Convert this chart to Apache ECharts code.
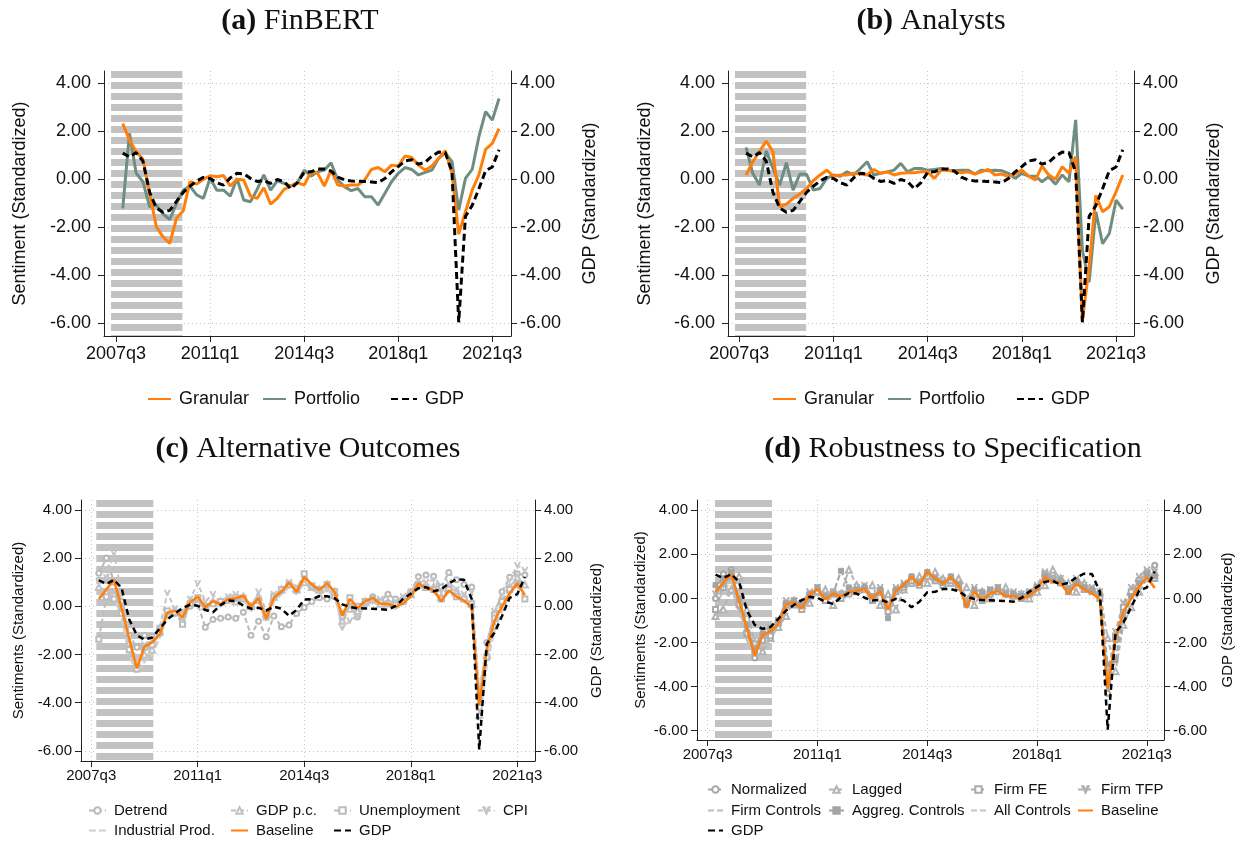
<!DOCTYPE html>
<html><head><meta charset="utf-8">
<script src="https://cdn.jsdelivr.net/npm/echarts@6/dist/echarts.min.js"></script>
<style>html,body{margin:0;padding:0;background:#fff}#c{width:1242px;height:844px}</style>
</head><body><div id="c"></div><script>
const quarters = ['2007q4',
 '2008q1','2008q2','2008q3','2008q4','2009q1','2009q2','2009q3','2009q4',
 '2010q1','2010q2','2010q3','2010q4','2011q1','2011q2','2011q3','2011q4',
 '2012q1','2012q2','2012q3','2012q4','2013q1','2013q2','2013q3','2013q4',
 '2014q1','2014q2','2014q3','2014q4','2015q1','2015q2','2015q3','2015q4',
 '2016q1','2016q2','2016q3','2016q4','2017q1','2017q2','2017q3','2017q4',
 '2018q1','2018q2','2018q3','2018q4','2019q1','2019q2','2019q3','2019q4',
 '2020q1','2020q2','2020q3','2020q4','2021q1','2021q2','2021q3','2021q4'];
const xTickLabels = ['2007q3','2011q1','2014q3','2018q1','2021q3'];
const yTicks = [-6,-4,-2,0,2,4];

const gdp = [1.08,0.92,1.10,0.75,-0.55,-1.20,-1.38,-1.30,-0.93,-0.55,
 -0.30,-0.08,0.07,0.02,-0.15,-0.25,0.05,0.24,0.22,0.03,
 -0.10,-0.06,-0.18,-0.02,-0.10,-0.40,-0.15,0.28,0.30,0.42,
 0.42,0.33,0.08,-0.03,-0.08,-0.09,-0.10,-0.12,-0.15,0.02,
 0.30,0.52,0.75,0.80,0.62,0.70,0.95,1.12,1.10,0.30,
 -5.95,-1.55,-1.10,-0.40,0.35,0.50,1.22];
const granularA = [2.31,1.62,1.14,0.82,-0.60,-1.98,-2.40,-2.67,-1.63,-1.32,
 -0.11,-0.21,-0.01,0.14,0.10,0.15,-0.29,-0.01,-0.04,-0.71,
 -0.80,-0.36,-1.04,-0.80,-0.43,-0.29,-0.15,-0.25,0.30,0.24,
 -0.29,0.37,-0.25,-0.29,-0.25,-0.25,-0.04,0.40,0.48,0.30,
 0.58,0.54,0.96,0.90,0.58,0.37,0.54,0.86,1.18,0.24,
 -2.29,-1.36,-0.46,0.17,1.23,1.48,2.10];
const portfolioA = [-1.22,1.90,0.24,-0.11,-1.15,-1.08,-1.45,-1.68,-1.01,-0.46,
 -0.29,-0.66,-0.80,0.03,-0.46,-0.46,-0.71,0.03,-0.87,-0.94,
 -0.43,0.17,-0.46,-0.07,-0.18,-0.29,-0.15,0.37,0.12,0.30,
 0.37,0.68,-0.04,-0.32,-0.48,-0.39,-0.73,-0.73,-1.08,-0.60,
 -0.11,0.24,0.48,0.40,0.17,0.28,0.37,0.86,1.09,0.72,
 -1.29,0.03,0.40,1.76,2.80,2.45,3.35];
const granularB = [0.17,0.72,1.14,1.58,1.14,-1.15,-1.04,-0.80,-0.62,-0.39,
 -0.07,0.17,0.37,0.12,0.17,0.17,0.24,0.21,0.17,0.40,
 0.24,0.30,0.17,0.24,0.26,0.26,0.30,0.30,0.03,0.37,
 0.37,0.30,0.26,0.30,0.21,0.30,0.40,0.17,0.21,0.10,
 0.21,0.37,0.12,-0.04,0.54,0.17,-0.01,0.51,0.24,0.93,
 -5.88,-3.65,-0.67,-1.36,-1.15,-0.53,0.17];
const portfolioB = [1.32,0.24,-0.25,1.18,0.45,-0.25,0.68,-0.46,0.21,0.20,
 -0.46,-0.39,0.03,0.17,0.12,0.30,0.17,0.44,0.72,0.17,
 0.24,0.30,0.37,0.65,0.30,0.44,0.44,0.37,0.40,0.44,
 0.37,0.35,0.37,0.37,0.21,0.37,0.35,0.37,0.35,0.24,
 0.03,0.24,0.12,0.12,-0.11,0.10,-0.21,0.17,-0.11,2.46,
 -2.96,-4.28,-1.36,-2.68,-2.26,-0.88,-1.25];
const baseline = [0.30,0.70,1.10,-0.10,-1.35,-2.58,-1.67,-1.50,-1.17,-0.26,
 -0.19,-0.46,0.17,0.40,-0.04,0.21,0.09,0.29,0.33,0.44,
 -0.01,0.33,-0.52,0.35,0.60,0.98,0.60,1.22,0.90,0.68,
 0.95,0.60,-0.40,0.30,-0.07,0.21,0.34,0.10,0.10,-0.03,
 0.13,0.40,0.95,0.75,0.69,0.21,0.66,0.40,0.24,-0.04,
 -4.10,-1.80,-0.60,0.00,0.53,0.95,0.47];
const detrend = [1.37,2.00,1.00,0.20,-1.20,-1.70,-1.20,-1.25,-0.90,-0.35,
 -0.30,-0.45,0.00,0.10,-0.87,-0.55,-0.50,-0.45,-0.50,-0.25,
 -1.20,-0.62,-1.26,-0.40,-0.85,-0.78,-0.30,-0.05,0.20,0.35,
 0.30,0.40,-0.30,0.00,-0.45,0.10,0.40,0.20,0.50,0.30,
 0.30,0.60,1.23,1.30,1.25,0.80,1.40,1.10,0.90,0.80,
 -3.80,-1.50,-0.30,0.60,1.20,1.35,1.30];
const gdpPc = [0.80,0.60,0.50,0.00,-1.50,-2.30,-2.00,-1.80,-1.00,-0.30,
 -0.20,-0.30,0.20,0.30,0.00,0.20,0.20,0.30,0.20,0.40,
 0.00,0.40,-0.30,0.40,0.70,0.90,0.70,1.00,0.80,0.70,
 0.90,0.60,-0.60,-0.10,-0.20,0.20,0.30,0.10,0.20,0.10,
 0.30,0.50,0.90,0.80,0.80,0.40,0.80,0.60,0.40,0.10,
 -4.50,-2.00,-0.80,0.20,0.80,1.20,0.90];
const unemployment = [-1.37,0.40,0.30,-0.30,-1.80,-2.60,-1.70,-1.60,-1.10,-0.20,
 -0.25,-0.75,0.10,0.35,0.00,0.10,0.20,0.25,0.35,0.30,
 0.00,0.25,-0.45,0.40,0.70,0.90,0.70,1.35,0.85,0.70,
 0.90,0.60,-0.40,0.35,0.00,0.20,0.30,0.20,0.10,0.10,
 0.20,0.50,0.90,0.80,0.70,0.30,0.70,0.40,0.30,0.10,
 -4.20,-2.10,-0.50,0.20,0.70,0.90,0.30];
const cpi = [1.00,1.20,2.20,0.50,-1.40,-2.20,-1.60,-1.40,-0.90,0.55,
 -0.10,-0.20,0.30,0.95,0.20,0.50,0.10,0.40,0.50,0.35,
 0.00,0.60,-0.20,0.50,0.65,1.00,0.80,1.10,0.80,0.60,
 0.70,0.50,-0.90,-0.60,-0.40,0.00,0.20,0.30,0.10,0.20,
 0.40,0.60,1.10,1.00,1.10,0.60,1.00,0.70,0.50,0.60,
 -3.50,-1.60,-0.20,0.50,1.10,1.70,1.50];
const industrialProd = [0.50,0.30,0.40,-0.50,-2.00,-2.80,-2.30,-2.00,-1.30,-0.40,
 -0.30,-0.40,0.00,0.20,-0.20,0.10,0.00,0.20,0.20,0.30,
 -0.20,0.20,-0.60,0.20,0.50,0.80,0.50,1.00,0.70,0.50,
 0.70,0.40,-0.70,0.10,-0.30,0.00,0.20,0.00,0.00,-0.10,
 0.10,0.40,0.80,0.70,0.60,0.20,0.60,0.30,0.20,-0.10,
 -4.80,-2.40,-1.00,-0.20,0.50,1.00,0.80];
const normalized = [0.00,1.10,1.30,-0.20,-1.50,-2.70,-1.80,-1.60,-1.20,-0.30,
 -0.20,-0.40,0.20,0.40,0.00,0.30,0.10,0.30,0.40,0.50,
 0.00,0.40,-0.50,0.40,0.60,0.90,0.70,1.10,0.90,0.70,
 0.90,0.60,-0.30,0.30,0.00,0.30,0.40,0.20,0.20,0.10,
 0.20,0.50,1.00,0.90,0.80,0.40,0.80,0.50,0.40,0.10,
 -4.30,-1.90,-0.60,0.20,0.80,1.20,1.50];
const lagged = [-0.80,-0.50,0.40,1.00,-0.50,-2.00,-2.40,-1.80,-1.30,-0.80,
 -0.10,-0.30,-0.20,0.30,0.40,-0.30,0.20,1.30,0.60,0.50,
 0.60,-0.30,0.20,-0.50,0.40,0.70,1.00,0.70,1.20,0.90,
 0.70,0.90,0.50,-0.30,0.30,0.00,0.40,0.50,0.20,0.20,
 0.00,0.30,0.60,1.30,0.90,0.70,0.30,0.70,0.40,0.30,
 -1.80,-3.30,-1.20,-0.40,0.30,0.90,1.20];
const firmFE = [-0.50,0.50,1.00,-0.30,-1.60,-2.40,-1.90,-1.70,-1.10,-0.30,
 -0.30,-0.50,0.10,0.30,-0.10,0.20,0.00,0.20,0.30,0.40,
 -0.10,0.30,-0.60,0.30,0.50,0.80,0.60,1.00,0.80,0.60,
 0.80,0.50,-0.20,0.20,-0.10,0.20,0.30,0.20,0.10,0.00,
 0.20,0.50,1.10,0.90,0.70,0.30,0.70,0.40,0.30,0.00,
 -3.80,-1.70,-0.40,0.30,0.80,1.10,0.90];
const firmTFP = [0.20,0.60,1.00,-0.40,-1.70,-2.20,-1.50,-1.30,-1.00,-0.10,
 -0.10,-0.20,0.30,0.50,0.10,0.30,0.20,0.40,0.50,0.60,
 0.10,0.50,-0.30,0.50,0.70,0.90,0.80,1.10,1.00,0.80,
 0.90,0.70,0.00,0.50,0.20,0.40,0.50,0.30,0.30,0.20,
 0.30,0.60,1.20,1.00,0.90,0.50,0.90,0.60,0.50,0.30,
 -3.50,-1.50,-0.20,0.50,1.00,1.30,1.20];
const firmControls = [-1.00,-0.30,0.50,-0.60,-1.90,-2.50,-2.00,-1.80,-1.30,-0.40,
 -0.30,-0.60,0.10,0.30,-0.20,0.10,0.00,0.20,0.20,0.30,
 -0.20,0.20,-0.80,0.20,0.50,0.80,0.50,1.00,0.70,0.60,
 0.80,0.50,-0.30,0.20,-0.20,0.10,0.30,0.10,0.10,-0.10,
 0.10,0.40,0.90,0.80,0.70,0.30,0.60,0.40,0.30,0.00,
 -4.50,-2.20,-0.80,0.00,0.60,1.00,0.80];
const aggregControls = [0.60,0.90,1.20,0.00,-1.20,-2.30,-1.60,-1.40,-1.00,-0.20,
 -0.10,-0.30,0.20,0.50,0.10,0.20,1.25,0.50,0.40,0.50,
 0.10,0.40,-0.90,0.40,0.60,1.00,0.70,1.20,0.90,0.70,
 1.00,0.60,-0.20,0.40,0.30,0.40,0.50,0.20,0.20,0.10,
 0.30,0.50,1.00,0.80,0.80,0.40,0.80,0.50,0.40,0.20,
 -3.00,-2.80,-0.90,0.10,0.70,1.10,1.00];
const allControls = [-0.30,0.30,0.80,-0.30,-1.60,-2.40,-1.80,-1.60,-1.20,-0.30,
 -0.20,-0.50,0.10,0.40,0.00,0.20,0.10,0.30,0.30,0.40,
 0.00,0.30,-0.60,0.30,0.60,0.90,0.60,1.10,0.80,0.60,
 0.90,0.50,-0.30,0.30,0.00,0.20,0.30,0.10,0.10,0.00,
 0.20,0.50,1.00,0.80,0.70,0.30,0.70,0.40,0.30,0.00,
 -4.00,-1.80,-0.50,0.20,0.70,1.10,1.00];
// recession shading, in quarters after 2007q3
const recessionA = [-0.74, 9.87];
const recessionB = [-0.64, 9.93];
const recessionC = [0.67, 8.16];
const recessionD = [0.93, 8.20];

const SANS = 'Liberation Sans, Arial, Helvetica, sans-serif';
const SERIF = 'Liberation Serif, Times New Roman, serif';
function qIndex(s){ const y=+s.slice(0,4), q=+s.slice(5); return (y-2007)*4 + (q-3); }
const xTicks = xTickLabels.map(qIndex);
function pts(arr){ return arr.map((v,i)=>[qIndex(quarters[i]), v]); }

// striped pattern for shading
const pc = document.createElement('canvas'); pc.width = 4; pc.height = 11;
const pg = pc.getContext('2d');
pg.fillStyle = '#ffffff'; pg.fillRect(0,0,4,11);
pg.fillStyle = '#c2c2c2'; pg.fillRect(0,5,4,6); pg.fillRect(0,0,4,1);
const stripe = { image: pc, repeat: 'repeat' };

const P = [
 {l:104,t:71,r:511,b:336,xmin:-1.79,xmax:58.78,ymin:-6.52,ymax:4.49,fs:18,lm:13,rm:9,xm:9,ngL:75,ngR:70,yl:'Sentiment (Standardized)'},
 {l:728,t:71,r:1134,b:336,xmin:-1.68,xmax:58.67,ymin:-6.52,ymax:4.49,fs:18,lm:13,rm:9,xm:9,ngL:74,ngR:71,yl:'Sentiment (Standardized)'},
 {l:81,t:500,r:535,b:761,xmin:-1.34,xmax:58.33,ymin:-6.42,ymax:4.41,fs:15,lm:9,rm:9,xm:7,ngL:55,ngR:54,yl:'Sentiments (Standardized)'},
 {l:697,t:500,r:1164,b:740,xmin:-1.36,xmax:58.18,ymin:-6.42,ymax:4.46,fs:15,lm:9,rm:9,xm:7,ngL:49,ngR:56,yl:'Sentiments (Standardized)'}
];
const AX = '#222';
const grid=[], xAxis=[], yAxis=[];
P.forEach((p,i)=>{
  grid.push({left:p.l, top:p.t, width:p.r-p.l, height:p.b-p.t, containLabel:false});
  xAxis.push({type:'value', gridIndex:i, min:p.xmin, max:p.xmax,
    axisLine:{show:true,onZero:false,lineStyle:{color:AX,width:1}},
    axisTick:{show:true,customValues:xTicks,length:6,lineStyle:{color:AX}},
    axisLabel:{customValues:xTicks,fontSize:p.fs,color:'#111',fontFamily:SANS,margin:p.xm,
      formatter:v=>{const k=xTicks.indexOf(Math.round(v)); return k>=0?xTickLabels[k]:'';}},
    splitLine:{show:true,lineStyle:{type:[1,3],color:'#c4c4c4',width:1}}});
  yAxis.push({type:'value', gridIndex:i, position:'left', min:p.ymin, max:p.ymax,
    name:p.yl, nameLocation:'middle', nameGap:p.ngL, nameRotate:90,
    nameTextStyle:{fontSize:p.fs,color:'#111',fontFamily:SANS},
    axisLine:{show:true,onZero:false,lineStyle:{color:AX,width:1}},
    axisTick:{show:true,customValues:yTicks,length:6,lineStyle:{color:AX}},
    axisLabel:{customValues:yTicks,fontSize:p.fs,color:'#111',fontFamily:SANS,margin:p.lm,formatter:v=>v.toFixed(2)},
    splitLine:{show:true,lineStyle:{type:[1,3],color:'#c4c4c4',width:1}}});
  yAxis.push({type:'value', gridIndex:i, position:'right', min:p.ymin, max:p.ymax,
    name:'GDP (Standardized)', nameLocation:'middle', nameGap:p.ngR, nameRotate:90,
    nameTextStyle:{fontSize:p.fs,color:'#111',fontFamily:SANS},
    axisLine:{show:true,onZero:false,lineStyle:{color:AX,width:1}},
    axisTick:{show:true,customValues:yTicks,length:6,lineStyle:{color:AX}},
    axisLabel:{customValues:yTicks,fontSize:p.fs,color:'#111',fontFamily:SANS,margin:p.rm,formatter:v=>v.toFixed(2)},
    splitLine:{show:false}});
});

const ORANGE = '#ff7f0a', GREEN = '#6f8e80';
const series = [];
function shade(gi, r){
  series.push({type:'line', name:'_shade'+gi, xAxisIndex:gi, yAxisIndex:2*gi, data:[], z:1, silent:true,
    markArea:{silent:true, itemStyle:{color:stripe, opacity:1, borderWidth:0}, data:[[{xAxis:r[0]},{xAxis:r[1]}]]}});
}
function ln(name, arr, gi, right, color, width, dash, z, sym, symSize){
  series.push({type:'line', name, data:pts(arr), xAxisIndex:gi, yAxisIndex:2*gi+(right?1:0), z,
    symbol: sym||'none', symbolSize: symSize||5, showSymbol: !!sym,
    lineStyle:{color,width,type:dash||'solid'}, itemStyle:{color, borderColor:color, borderWidth:1},
    emphasis:{disabled:true}, silent:true});
}
const VSYM = 'path://M0,0L2,0L5,7L8,0L10,0L5,10Z';
const PSYM = 'path://M4,0L6,0L6,10L4,10Z';
// (a)
shade(0, recessionA);
ln('Granular', granularA, 0, false, ORANGE, 3, 'solid', 5);
ln('Portfolio', portfolioA, 0, false, GREEN, 3, 'solid', 4);
ln('GDP', gdp, 0, true, '#000', 3, [7,4], 6);
// (b)
shade(1, recessionB);
ln('Granular', granularB, 1, false, ORANGE, 3, 'solid', 5);
ln('Portfolio', portfolioB, 1, false, GREEN, 3, 'solid', 4);
ln('GDP', gdp, 1, true, '#000', 3, [7,4], 6);
// (c)
shade(2, recessionC);
ln('Detrend', detrend, 2, false, '#b9b9b9', 2, [5,3], 3, 'emptyCircle', 5);
ln('GDP p.c.', gdpPc, 2, false, '#c2c2c2', 2, [5,3], 3, 'emptyTriangle', 6);
ln('Unemployment', unemployment, 2, false, '#bcbcbc', 2, [5,3], 3, 'emptyRect', 5);
ln('CPI', cpi, 2, false, '#c6c6c6', 2, [5,3], 3, VSYM, 6);
ln('Industrial Prod.', industrialProd, 2, false, '#cfcfcf', 2.5, [7,3], 3);
ln('Baseline', baseline, 2, false, ORANGE, 2.5, 'solid', 5);
ln('GDP', gdp, 2, true, '#000', 2.5, [6,4], 6);
// (d)
shade(3, recessionD);
ln('Normalized', normalized, 3, false, '#a8a8a8', 2, [5,3], 3, 'emptyCircle', 5);
ln('Lagged', lagged, 3, false, '#b4b4b4', 2, [5,3], 3, 'emptyTriangle', 6);
ln('Firm FE', firmFE, 3, false, '#ababab', 2, [5,3], 3, 'emptyRect', 5);
ln('Firm TFP', firmTFP, 3, false, '#b0b0b0', 2, [5,3], 3, VSYM, 6);
ln('Firm Controls', firmControls, 3, false, '#bdbdbd', 2, [6,3], 3);
ln('Aggreg. Controls', aggregControls, 3, false, '#a4a4a4', 2, [6,3], 3, PSYM, 5);
ln('All Controls', allControls, 3, false, '#c4c4c4', 2, [6,3], 3);
ln('Baseline', baseline, 3, false, ORANGE, 2.5, 'solid', 5);
ln('GDP', gdp, 3, true, '#000', 2.5, [6,4], 6);

function leg(name, left, top, fs, w, h, marker){
  const o = {data:[name], left, top, orient:'horizontal', itemWidth:w, itemHeight:h, itemGap:0, padding:0,
    selectedMode:false, textStyle:{fontSize:fs,color:'#111',fontFamily:SANS,padding:[0,0,0,3]}};
  if (!marker) o.itemStyle = {opacity:0};
  return o;
}
const legend = [
  leg('Granular',147,390,18,23,12), leg('Portfolio',262,390,18,23,12), leg('GDP',390,390,18,26,12),
  leg('Granular',772,390,18,23,12), leg('Portfolio',887,390,18,23,12), leg('GDP',1016,390,18,26,12),
  leg('Detrend',88,803,15,17,8,1), leg('GDP p.c.',230,803,15,17,8,1), leg('Unemployment',333,803,15,17,8,1), leg('CPI',477,803,15,17,8,1),
  leg('Industrial Prod.',88,823,15,17,8), leg('Baseline',230,823,15,17,8), leg('GDP',333,823,15,17,8),
  leg('Normalized',707,782,15,15,8,1), leg('Lagged',828,782,15,15,8,1), leg('Firm FE',970,782,15,15,8,1), leg('Firm TFP',1077,782,15,15,8,1),
  leg('Firm Controls',707,803,15,15,8), leg('Aggreg. Controls',828,803,15,15,8,1), leg('All Controls',970,803,15,15,8), leg('Baseline',1077,803,15,15,8),
  leg('GDP',707,823,15,15,8)
];
function ttl(b, rest, x, y){
  return {text:'{b|'+b+'} '+rest, left:x, top:y, textAlign:'center', padding:0,
    textStyle:{fontFamily:SERIF,fontSize:30,fontWeight:'normal',color:'#111',
      rich:{b:{fontFamily:SERIF,fontSize:30,fontWeight:'bold',color:'#111'}}}};
}
const title = [ttl('(a)','FinBERT',300,6), ttl('(b)','Analysts',931,6),
  ttl('(c)','Alternative Outcomes',308,434), ttl('(d)','Robustness to Specification',953,434)];

const chart = echarts.init(document.getElementById('c'), null, {renderer:'canvas'});
chart.setOption({animation:false, backgroundColor:'#fff', title, legend, grid, xAxis, yAxis, series});
</script></body></html>
